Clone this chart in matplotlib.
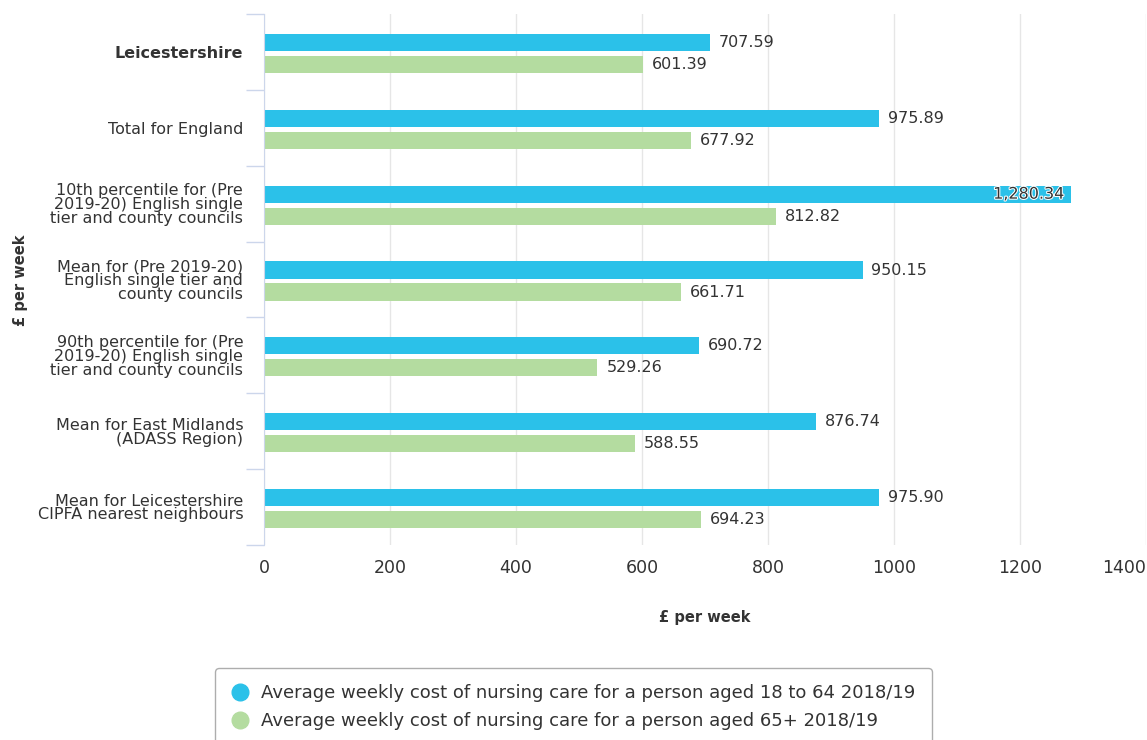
import matplotlib
matplotlib.use("Agg")
import matplotlib.pyplot as plt
import matplotlib.patheffects as pe
from matplotlib.lines import Line2D
import numpy as np

plt.rcParams["font.family"] = ["DejaVu Sans"]

categories = [
    "Leicestershire",
    "Total for England",
    "10th percentile for (Pre\n2019-20) English single\ntier and county councils",
    "Mean for (Pre 2019-20)\nEnglish single tier and\ncounty councils",
    "90th percentile for (Pre\n2019-20) English single\ntier and county councils",
    "Mean for East Midlands\n(ADASS Region)",
    "Mean for Leicestershire\nCIPFA nearest neighbours",
]
cost_18_64 = [707.59, 975.89, 1280.34, 950.15, 690.72, 876.74, 975.90]
cost_65_plus = [601.39, 677.92, 812.82, 661.71, 529.26, 588.55, 694.23]
series_names = [
    "Average weekly cost of nursing care for a person aged 18 to 64 2018/19",
    "Average weekly cost of nursing care for a person aged 65+ 2018/19",
]
x_ticks = [0, 200, 400, 600, 800, 1000, 1200, 1400]

BLUE = "#2bc1e9"
GREEN = "#b4dca0"
TEXT = "#333333"

fig = plt.figure(figsize=(11.47, 7.40), dpi=100)
ax = fig.add_axes([264 / 1147, 1 - 545 / 740, 882 / 1147, 531 / 740])

y = np.arange(len(categories))
h = 0.225
ax.barh(y - 0.125, cost_18_64, height=h, color=BLUE, zorder=3)
ax.barh(y + 0.165, cost_65_plus, height=h, color=GREEN, zorder=3)

ax.set_xlim(0, 1400)
ax.set_ylim(len(categories) - 0.5, -0.5)

# value labels; the one that runs past the axis end goes inside the bar
for i, (a, b) in enumerate(zip(cost_18_64, cost_65_plus)):
    if a > 1200:
        ax.text(a - 10, i - 0.125, f"{a:,.2f}", ha="right", va="center",
                fontsize=11.5, color=TEXT, zorder=4,
                path_effects=[pe.withStroke(linewidth=1.5, foreground="white")])
    else:
        ax.text(a + 14, i - 0.125, f"{a:,.2f}", ha="left", va="center",
                fontsize=11.5, color=TEXT, zorder=4)
    ax.text(b + 14, i + 0.165, f"{b:,.2f}", ha="left", va="center",
            fontsize=11.5, color=TEXT, zorder=4)

# category boundaries as tick marks, names as minor ticks at band centres
ax.set_yticks(np.arange(-0.5, len(categories), 1.0))
ax.set_yticklabels([])
ax.tick_params(axis="y", which="major", length=13, color="#ccd6eb", width=1)
ax.set_yticks(y, minor=True)
ax.set_yticklabels(categories, minor=True, fontsize=11.5, color=TEXT,
                   linespacing=0.9)
ax.tick_params(axis="y", which="minor", length=0, pad=15)
ax.get_yticklabels(minor=True)[0].set_fontweight("bold")

ax.set_xticks(x_ticks)
ax.set_xticklabels([str(t) for t in x_ticks], fontsize=12.5, color=TEXT)
ax.tick_params(axis="x", length=0, pad=10)
ax.get_xticklabels()[-1].set_horizontalalignment("right")

ax.grid(axis="x", color="#e6e6e6", linewidth=1, zorder=0)
for side in ["top", "right", "bottom"]:
    ax.spines[side].set_visible(False)
ax.spines["left"].set_color("#ccd6eb")
ax.spines["left"].set_zorder(5)

ax.set_xlabel("£ per week", fontsize=10.5, fontweight="bold", color=TEXT,
              labelpad=24)
fig.text(21 / 1147, 1 - 280 / 740, "£ per week", rotation=90, fontsize=10.5,
         fontweight="bold", color=TEXT, ha="center", va="center")

handles = [
    Line2D([], [], marker="o", linestyle="none", markersize=12,
           markerfacecolor=BLUE, markeredgecolor=BLUE),
    Line2D([], [], marker="o", linestyle="none", markersize=12,
           markerfacecolor=GREEN, markeredgecolor=GREEN),
]
leg = fig.legend(handles, series_names, loc="upper left",
                 bbox_to_anchor=(215 / 1147, 1 - 668 / 740), fontsize=13,
                 frameon=True, fancybox=True, edgecolor="#999999",
                 borderpad=0.9, handlelength=1.0, handletextpad=0.65,
                 labelspacing=0.55, borderaxespad=0)
for t in leg.get_texts():
    t.set_color(TEXT)

fig.savefig("out.png", dpi=100)
